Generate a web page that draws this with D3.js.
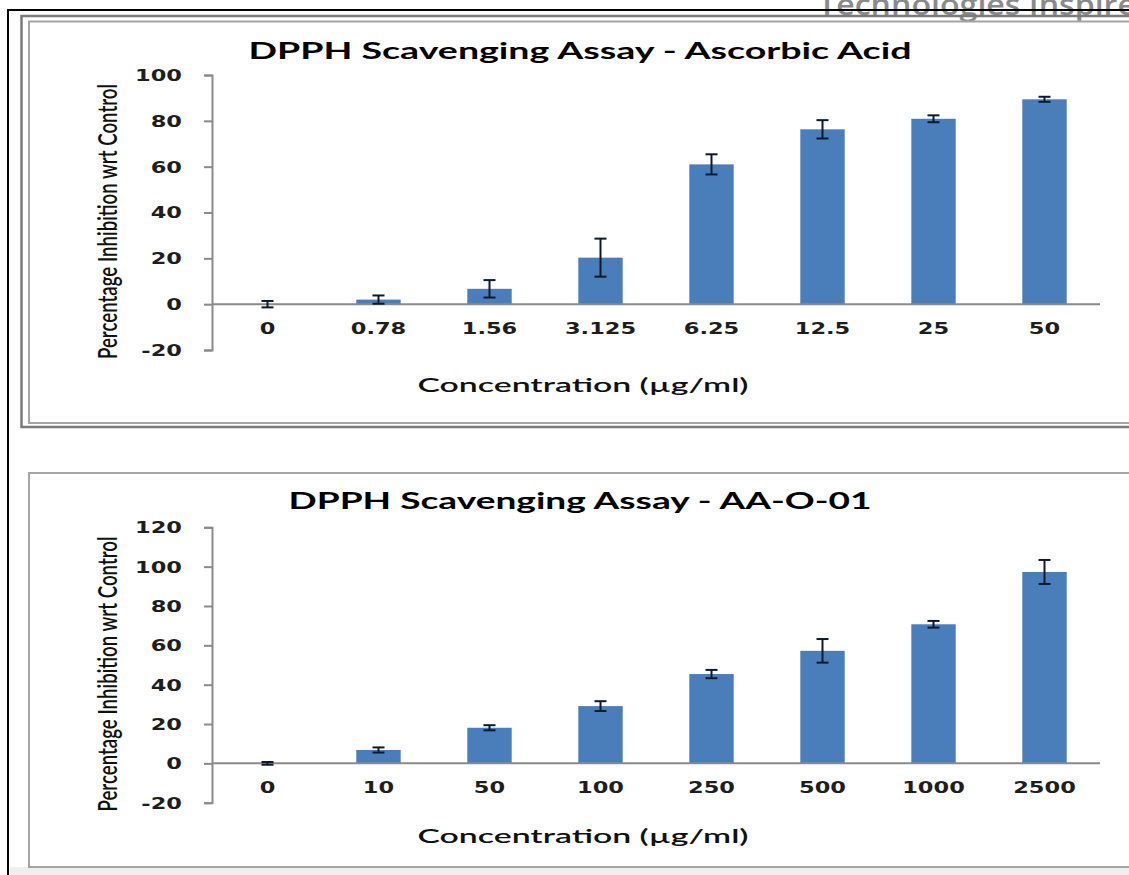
<!DOCTYPE html>
<html>
<head>
<meta charset="utf-8">
<script src="https://cdn.jsdelivr.net/npm/d3@7"></script>
<style>
  html, body { margin: 0; padding: 0; background: #fff; }
  svg { display: block; }
</style>
</head>
<body>
<svg id="fig" width="1129" height="875"></svg>
<script>
// Ascorbic acid standard
const aaCategories = ["0", "0.78", "1.56", "3.125", "6.25", "12.5", "25", "50"];
const aaValues     = [0, 2.0, 6.7, 20.3, 61.0, 76.3, 80.9, 89.4];
const aaErrors     = [1.4, 1.8, 3.8, 8.3, 4.4, 4.0, 1.5, 1.1];
const aaTicks      = [-20, 0, 20, 40, 60, 80, 100];

// Extract AA-O-01
const oCategories = ["0", "10", "50", "100", "250", "500", "1000", "2500"];
const oValues     = [0, 6.8, 18.1, 29.1, 45.4, 57.2, 70.7, 97.3];
const oErrors     = [0.7, 1.3, 1.3, 2.5, 2.1, 6.0, 1.7, 6.1];
const oTicks      = [-20, 0, 20, 40, 60, 80, 100, 120];

const panelTitles = ["DPPH Scavenging Assay - Ascorbic Acid", "DPPH Scavenging Assay - AA-O-01"];
const xAxisTitle  = "Concentration (µg/ml)";
const yAxisTitle  = "Percentage Inhibition wrt Control";
const watermark   = "Technologies Inspire";

const svg = d3.select("#fig");
const SX = 1.5;                 // horizontal glyph stretch used throughout
const AXIS = "#8a8a8a";
const BAR = "#4a7ebb";
const ERR = "#0d1a2e";

// ---- page frame and panel borders ----
svg.append("rect").attr("x", 10).attr("y", 867).attr("width", 1119).attr("height", 8).attr("fill", "#efefef");

svg.append("text")
  .attr("x", 818).attr("y", 15)
  .attr("font-family", "Open Sans, sans-serif").attr("font-weight", 600).attr("font-size", 28)
  .attr("fill", "#8a8a8a")
  .attr("textLength", 318).attr("lengthAdjust", "spacingAndGlyphs")
  .text(watermark);

svg.append("path").attr("d", "M8,875V10H1129").attr("fill", "none").attr("stroke", "#000").attr("stroke-width", 2);

svg.append("rect").attr("x", 21.5).attr("y", 16).attr("width", 1200).attr("height", 411)
  .attr("fill", "none").attr("stroke", "#7a7a7a").attr("stroke-width", 2.5);
svg.append("rect").attr("x", 29).attr("y", 21.5).attr("width", 1200).attr("height", 401.5)
  .attr("fill", "none").attr("stroke", "#a4a4a4").attr("stroke-width", 2);
svg.append("rect").attr("x", 29).attr("y", 473).attr("width", 1200).attr("height", 394)
  .attr("fill", "none").attr("stroke", "#a4a4a4").attr("stroke-width", 2);

// ---- one bar chart with error bars ----
function drawPanel(cfg) {
  const x = d3.scaleBand().domain(cfg.categories).range([212, 1100]).paddingInner(0.6).paddingOuter(0.3);
  const y = d3.scaleLinear().domain(d3.extent(cfg.ticks)).range([cfg.bottom, cfg.top]);
  const rows = cfg.categories.map((c, i) => ({ c, v: cfg.values[i], e: cfg.errors[i] }));
  const g = svg.append("g");

  // bars
  g.selectAll("rect.bar").data(rows).join("rect")
    .attr("class", "bar")
    .attr("x", d => x(d.c))
    .attr("width", x.bandwidth())
    .attr("y", d => y(Math.max(0, d.v)))
    .attr("height", d => Math.abs(y(d.v) - y(0)))
    .attr("fill", BAR);

  // y axis
  const ya = g.append("g").attr("transform", "translate(212,0)")
    .call(d3.axisLeft(y).tickValues(cfg.ticks).tickSize(8).tickSizeOuter(8).tickFormat(d => String(d)));
  ya.selectAll("path, line").attr("stroke", AXIS).attr("stroke-width", 2);
  ya.selectAll("text")
    .attr("x", 0).attr("dy", "0.36em")
    .attr("transform", `translate(-30,0) scale(${SX},1)`)
    .attr("font-family", "DejaVu Sans, sans-serif").attr("font-weight", "bold").attr("font-size", 15)
    .attr("fill", "#1e1e1e").attr("text-anchor", "end");

  // x axis along zero
  const xa = g.append("g").attr("transform", `translate(0,${y(0)})`)
    .call(d3.axisBottom(x).tickSize(0).tickSizeOuter(0));
  xa.select("path").attr("stroke", AXIS).attr("stroke-width", 2)
    .attr("d", `M212,0H1100`);
  xa.selectAll("text")
    .attr("y", 0).attr("dy", 0)
    .attr("transform", `translate(0,30) scale(${SX},1)`)
    .attr("font-family", "DejaVu Sans, sans-serif").attr("font-weight", "bold").attr("font-size", 15)
    .attr("fill", "#1e1e1e");

  // error bars
  const eg = g.selectAll("g.err").data(rows).join("g").attr("class", "err")
    .attr("transform", d => `translate(${x(d.c) + x.bandwidth() / 2},0)`)
    .attr("stroke", ERR).attr("stroke-width", 2);
  eg.append("line").attr("y1", d => y(d.v + d.e)).attr("y2", d => y(d.v - d.e));
  eg.append("line").attr("x1", -6).attr("x2", 6).attr("y1", d => y(d.v + d.e)).attr("y2", d => y(d.v + d.e));
  eg.append("line").attr("x1", -6).attr("x2", 6).attr("y1", d => y(d.v - d.e)).attr("y2", d => y(d.v - d.e));

  // titles
  g.append("text")
    .attr("x", 580).attr("y", cfg.titleY).attr("text-anchor", "middle")
    .attr("font-family", "Lato, sans-serif").attr("font-weight", "bold").attr("font-size", 22)
    .attr("textLength", cfg.titleLen).attr("lengthAdjust", "spacingAndGlyphs")
    .attr("fill", "#000").text(cfg.title);

  g.append("text")
    .attr("x", 583).attr("y", cfg.bottom + cfg.xTitleGap).attr("text-anchor", "middle")
    .attr("font-family", "Lato, sans-serif").attr("font-weight", 600).attr("font-size", 19)
    .attr("textLength", 331).attr("lengthAdjust", "spacingAndGlyphs")
    .attr("fill", "#111").text(xAxisTitle);

  g.append("g")
    .attr("transform", `translate(117,${(cfg.top + cfg.bottom) / 2 + 9}) scale(${SX},1) rotate(-90)`)
    .append("text").attr("text-anchor", "middle")
    .attr("font-family", "Lato, sans-serif").attr("font-weight", 600).attr("font-size", 17.5)
    .attr("textLength", 275).attr("lengthAdjust", "spacingAndGlyphs")
    .attr("fill", "#111").text(yAxisTitle);
}

drawPanel({
  categories: aaCategories, values: aaValues, errors: aaErrors, ticks: aaTicks,
  top: 75, bottom: 350, title: panelTitles[0], titleY: 59, titleLen: 663, xTitleGap: 42
});
drawPanel({
  categories: oCategories, values: oValues, errors: oErrors, ticks: oTicks,
  top: 527.3, bottom: 802.7, title: panelTitles[1], titleY: 509, titleLen: 583, xTitleGap: 40
});
</script>
</body>
</html>
